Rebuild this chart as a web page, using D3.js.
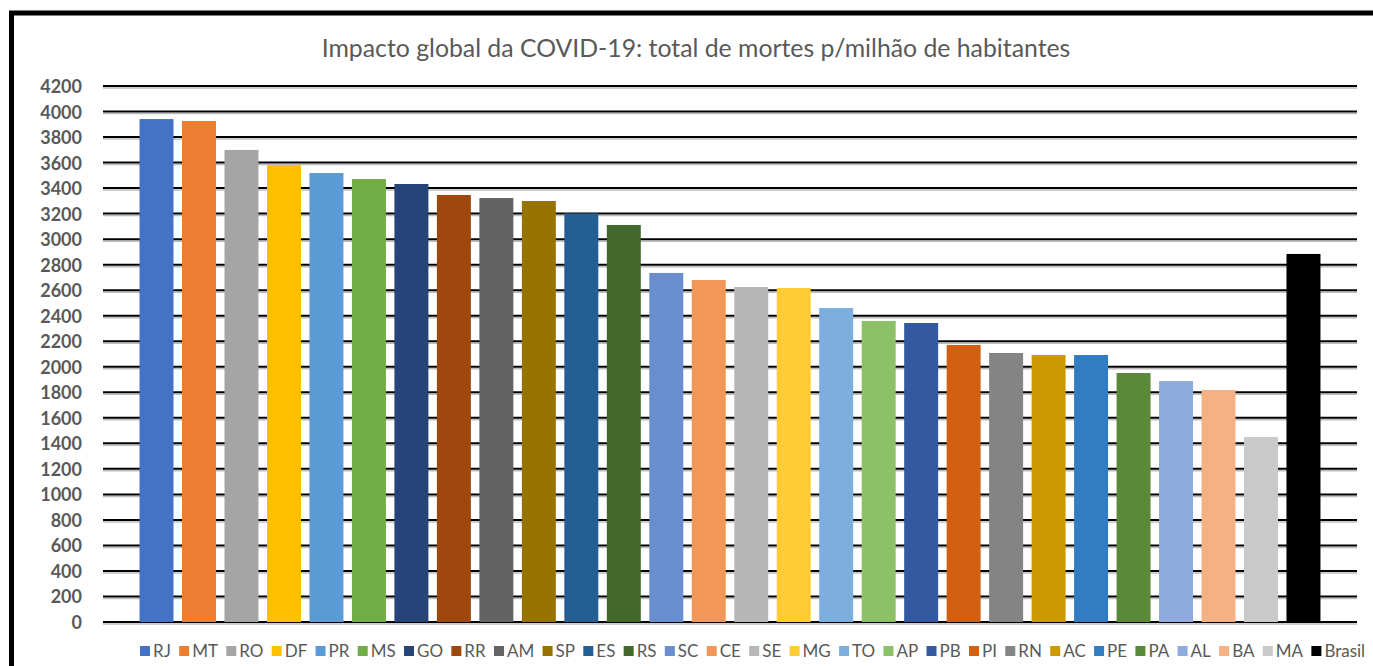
<!DOCTYPE html>
<html>
<head>
<meta charset="utf-8">
<script src="https://cdnjs.cloudflare.com/ajax/libs/d3/7.8.5/d3.min.js"></script>
<style>
    body { margin: 0; background: #ffffff; }
    svg { display: block; font-family: Lato, "Liberation Sans", sans-serif; }
</style>
</head>
<body>
<div id="bar_graph"></div>
<script>

// Estados (and the national total), in the order they are drawn.
var estados = ["RJ", "MT", "RO", "DF", "PR", "MS", "GO", "RR", "AM", "SP", "ES", "RS", "SC", "CE",
    "SE", "MG", "TO", "AP", "PB", "PI", "RN", "AC", "PE", "PA", "AL", "BA", "MA", "Brasil"];

// Total de mortes por milhão de habitantes.
var mortesPorMilhao = [3941, 3926, 3699, 3581, 3518, 3471, 3432, 3346, 3322, 3299, 3202, 3111, 2735, 2680,
    2625, 2617, 2460, 2359, 2343, 2171, 2108, 2092, 2092, 1951, 1888, 1818, 1450, 2884];

// Excel palette colour of every bar.
var cores = ["#4472C4", "#ED7D31", "#A5A5A5", "#FFC000", "#5B9BD5", "#70AD47", "#264478", "#9E480E",
    "#636363", "#997300", "#255E91", "#43682B", "#698ED0", "#F1975A", "#B7B7B7", "#FFCD33", "#7CAFDD",
    "#8CC168", "#335AA1", "#D26012", "#848484", "#CC9A00", "#327DC2", "#5A8A39", "#8FAADC", "#F4B183",
    "#C9C9C9", "#000000"];

// Y-axis ticks.
var yTicks = d3.range(0, 4201, 200);

var titulo = "Impacto global da COVID-19: total de mortes p/milhão de habitantes";

var W = 1373, H = 666;
var plot = { left: 103, right: 1357, top: 86, bottom: 622 };
var textGrey = "#595959";

function drawChart() {

    var svg = d3.select("#bar_graph")
        .append("svg")
        .attr("width", W)
        .attr("height", H);

    // Thick black frame, cut off on the right and bottom like the screenshot.
    svg.append("rect")
        .attr("x", 11.5)
        .attr("y", 13)
        .attr("width", W + 40)
        .attr("height", H + 40)
        .attr("fill", "none")
        .attr("stroke", "#000")
        .attr("stroke-width", 5);

    /**
     * SCALES
     */
    var xScale = d3.scaleBand()
        .domain(estados)
        .range([plot.left, plot.right])
        .paddingInner(0.2)
        .paddingOuter(0.86);

    var yScale = d3.scaleLinear()
        .domain([0, 4200])
        .range([plot.bottom, plot.top]);

    // Gridlines: black line with a soft grey shadow below it.
    var grid = svg.append("g").attr("class", "grid");
    grid.selectAll("line.shadow")
        .data(yTicks)
        .enter()
        .append("line")
        .attr("class", "shadow")
        .attr("x1", plot.left)
        .attr("x2", plot.right)
        .attr("y1", function (d) { return yScale(d) + 2; })
        .attr("y2", function (d) { return yScale(d) + 2; })
        .attr("stroke", "#bdbdbd")
        .attr("stroke-width", 1.5);
    grid.selectAll("line.main")
        .data(yTicks)
        .enter()
        .append("line")
        .attr("class", "main")
        .attr("x1", plot.left)
        .attr("x2", plot.right)
        .attr("y1", function (d) { return yScale(d); })
        .attr("y2", function (d) { return yScale(d); })
        .attr("stroke", "#000")
        .attr("stroke-width", 2);

    // Y-axis labels (axis line and ticks hidden, Excel style).
    var yAxis = svg.append("g")
        .attr("class", "y axis")
        .attr("transform", "translate(" + (plot.left - 21) + ",0)")
        .call(d3.axisLeft(yScale).tickValues(yTicks).tickFormat(d3.format("d")).tickSize(0).tickPadding(0));
    yAxis.select(".domain").remove();
    yAxis.selectAll("text")
        .attr("dy", "0.36em")
        .style("font-family", "Lato, sans-serif")
        .style("font-size", "18px")
        .style("font-weight", "bold")
        .attr("fill", textGrey);

    /**
     * BARS
     */
    svg.selectAll("rect.bar")
        .data(mortesPorMilhao)
        .enter()
        .append("rect")
        .attr("class", "bar")
        .attr("x", function (d, i) { return xScale(estados[i]); })
        .attr("y", function (d) { return yScale(d); })
        .attr("width", xScale.bandwidth())
        .attr("height", function (d) { return yScale(0) - yScale(d); })
        .attr("fill", function (d, i) { return cores[i]; });

    // Title.
    svg.append("text")
        .attr("x", 696)
        .attr("y", 57)
        .attr("text-anchor", "middle")
        .style("font-size", "24.8px")
        .attr("fill", textGrey)
        .text(titulo);

    /**
     * LEGEND - items laid out one after the other from measured text widths.
     */
    var legend = svg.append("g").attr("class", "legend");
    var lx = 140;
    estados.forEach(function (e, i) {
        legend.append("rect")
            .attr("x", lx)
            .attr("y", 646)
            .attr("width", 10)
            .attr("height", 10)
            .attr("fill", cores[i]);
        var t = legend.append("text")
            .attr("x", lx + 13)
            .attr("y", 657)
            .style("font-size", "17px")
            .attr("fill", textGrey)
            .text(e);
        lx += 13 + t.node().getComputedTextLength() + 8.3;
    });
}

drawChart();
</script>
</body>
</html>
